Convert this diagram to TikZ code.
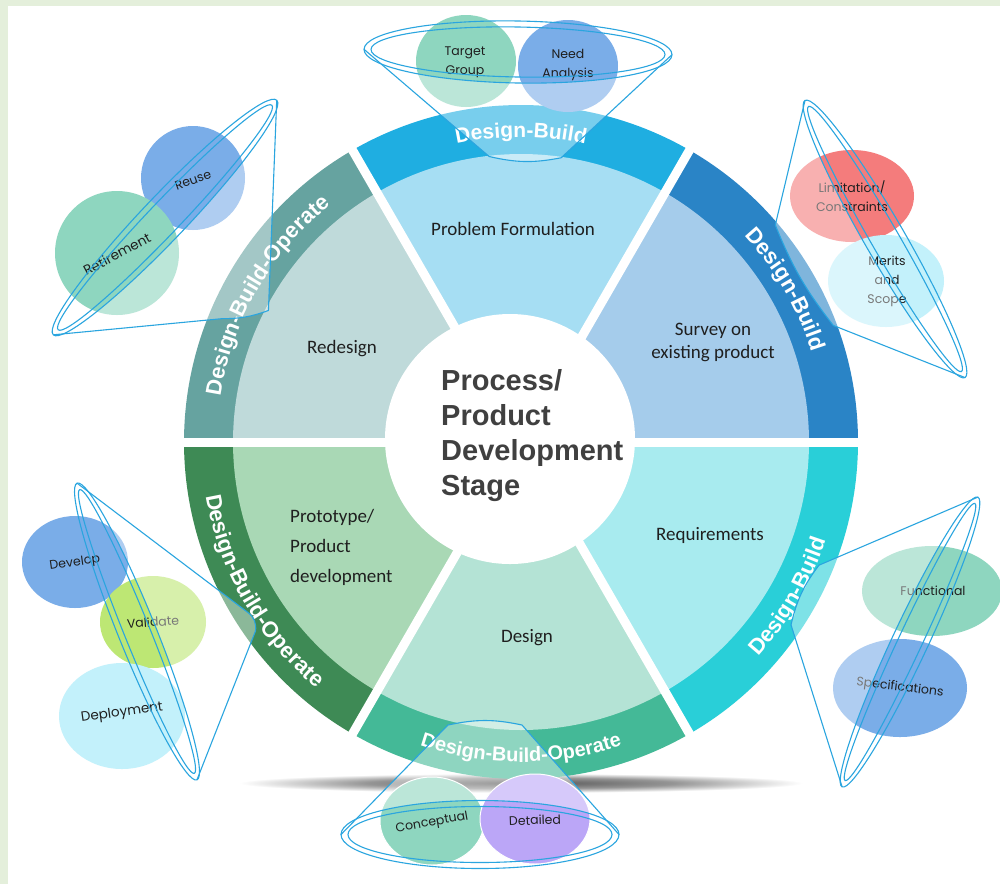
\documentclass[tikz,border=0pt]{standalone}
\usepackage{fontspec}
\setmainfont{Carlito}
\newfontfamily\arialf{Liberation Sans}
\newfontfamily\gothf{Poppins}
\usetikzlibrary{calc,decorations.text}
\definecolor{bgstrip}{HTML}{E4EFDB}
\definecolor{rTop}{HTML}{1FAEE1}\definecolor{iTop}{HTML}{A6DEF3}
\definecolor{rUR}{HTML}{2A84C6}\definecolor{iUR}{HTML}{A5CCEB}
\definecolor{rLR}{HTML}{29CFD8}\definecolor{iLR}{HTML}{A8EBEF}
\definecolor{rB}{HTML}{44B997}\definecolor{iB}{HTML}{B4E3D5}
\definecolor{rLL}{HTML}{3E8A55}\definecolor{iLL}{HTML}{A9D8B5}
\definecolor{rUL}{HTML}{66A3A0}\definecolor{iUL}{HTML}{BFDADA}
\definecolor{bGreen}{HTML}{8ED6BF}
\definecolor{bBlue}{HTML}{7AADE8}
\definecolor{bRed}{HTML}{F47C7C}
\definecolor{bCyan}{HTML}{C3F1FB}
\definecolor{bLime}{HTML}{BDE774}
\definecolor{bLav}{HTML}{BBA6F7}
\definecolor{fline}{HTML}{2AA5DF}
\definecolor{ctext}{HTML}{404040}
\definecolor{shA}{HTML}{555555}
\definecolor{shB}{HTML}{959595}
\pgfdeclareradialshading{shadowshade}{\pgfpoint{0bp}{0bp}}{color(0bp)=(shA); color(12bp)=(shB); color(22bp)=(white); color(50bp)=(white)}
\newcommand\ringTop{\arialf\bfseries\fontsize{21}{21}\selectfont}
\newcommand\ringSide{\arialf\bfseries\fontsize{22}{22}\selectfont}
\newcommand\ringBot{\arialf\bfseries\fontsize{20}{20}\selectfont}
\newcommand\wheelsector[4]{%
  \fill[#3] (C) -- ($(C)+(#1:337)$) arc[start angle=#1, end angle=#2, radius=337] -- cycle;
  \fill[#4] (C) -- ($(C)+(#1:288)$) arc[start angle=#1, end angle=#2, radius=288] -- cycle;}
\tikzset{
  conefill/.style={fill=white, fill opacity=0.4},
  rim/.style={draw=fline, line width=1.1pt},
  seclabel/.style={font=\fontsize{19}{23}\selectfont, text=black!88, align=center, inner sep=0pt},
  btext/.style={font=\gothf\fontsize{12.5}{19}\selectfont, text=black!88, align=center, inner sep=0pt},
  ringtext/.style={decorate, decoration={text along path, text align=center, text color=white, text={#1}}}
}
\begin{document}
\begin{tikzpicture}[x=1pt,y=1pt]
\fill[bgstrip] (0,0) rectangle (1000,-884);
\fill[white] (8,-6) rectangle (1000,-884);
\useasboundingbox (0,0) rectangle (1000,-884);
% shadow
\shade[shading=shadowshade] (521,-783) ellipse[x radius=320, y radius=11];
% wheel
\coordinate (C) at (521,-442);
\wheelsector{0}{60}{rUR}{iUR}
\wheelsector{60}{120}{rTop}{iTop}
\wheelsector{120}{180}{rUL}{iUL}
\wheelsector{180}{240}{rLL}{iLL}
\wheelsector{240}{300}{rB}{iB}
\wheelsector{300}{360}{rLR}{iLR}
\foreach \a in {0,60,...,300} \draw[white, line width=9] (C) -- ($(C)+(\a:345)$);
\fill[white] (510,-439) circle[radius=125];
% ring labels (curved along the ring)
\path[ringtext={|\ringTop|Design-Build}] ($(C)+(120:305)$) arc[start angle=120, end angle=60, radius=305];
\path[ringtext={|\ringSide|Design-Build}] ($(C)+(60:304)$) arc[start angle=60, end angle=0, radius=304];
\path[ringtext={|\ringSide|Design-Build-Operate}] ($(C)+(180:304)$) arc[start angle=180, end angle=120, radius=304];
\path[ringtext={|\ringSide|Design-Build}] ($(C)+(300:320)$) arc[start angle=300, end angle=360, radius=320];
\path[ringtext={|\ringBot|Design-Build-Operate}] ($(C)+(240:320)$) arc[start angle=240, end angle=300, radius=320];
\path[ringtext={|\ringSide|Design-Build-Operate}] ($(C)+(180:320)$) arc[start angle=180, end angle=240, radius=320];
% sector labels
\node[seclabel] (pf) at (513,-229) {Problem Formulation};
\node[seclabel] (sv) at (713,-342) {Survey on\\existing product};
\node[seclabel] (rq) at (710,-535) {Requirements};
\node[seclabel] (ds) at (527,-638) {Design};
\node[seclabel, align=left, anchor=west, font=\fontsize{19}{30}\selectfont] (pp) at (290,-547) {Prototype/\\Product\\development};
\node[seclabel] (rd) at (342,-349) {Redesign};
\node[anchor=west, align=left, font=\arialf\bfseries\fontsize{29}{35}\selectfont, text=ctext, inner sep=0pt] (ct) at (441,-436) {Process/\\Product\\Development\\Stage};
% ---------- top funnel
\fill[bGreen] (466,-61) ellipse[x radius=50, y radius=46];
\fill[bBlue] (568,-66) ellipse[x radius=50, y radius=46];
\node[btext] (tg) at (465,-62) {Target\\Group};
\node[btext] (na) at (568,-65) {Need\\Analysis};
\begin{scope}[shift={(518,-52)}, rotate=-1]
  \fill[conefill] (-154,0) -- (-27,-105) to[bend right=12] (45,-105) -- (154,0) arc[start angle=0, end angle=-180, x radius=154, y radius=31] -- cycle;
  \draw[rim] (0,0) ellipse[x radius=154, y radius=31];
  \draw[rim] (0,0) ellipse[x radius=147, y radius=25];
  \draw[rim] (-154,0) -- (-27,-105) to[bend right=12] (45,-105) -- (154,0);
\end{scope}
% ---------- upper-left funnel
\fill[bBlue] (193,-178) circle[radius=52];
\fill[bGreen] (117,-253) circle[radius=62];
\node[btext, rotate=20] (ru) at (193,-180) {Reuse};
\node[btext, rotate=28, font=\gothf\fontsize{13.5}{16}\selectfont] (rt) at (117,-254) {Retirement};
\begin{scope}[shift={(165,-217.5)}, rotate=46.4]
  \fill[conefill] (-162,0) -- (-34,-111) to[bend right=10] (4,-139) -- (162,0) arc[start angle=0, end angle=-180, x radius=162, y radius=22] -- cycle;
  \draw[rim] (0,0) ellipse[x radius=162, y radius=22];
  \draw[rim] (0,0) ellipse[x radius=155, y radius=16];
  \draw[rim] (-162,0) -- (-34,-111) to[bend right=10] (4,-139) -- (162,0);
\end{scope}
% ---------- upper-right funnel
\fill[bRed] (852,-196) ellipse[x radius=62, y radius=46];
\fill[bCyan] (886,-281) ellipse[x radius=58, y radius=46];
\node[btext] (lc) at (852,-196) {Limitation/\\Constraints};
\node[btext] (ms) at (887,-281) {Merits\\and\\Scope};
\begin{scope}[shift={(885,-239)}, rotate=-60]
  \fill[conefill] (-160,0) -- (-67,-88) to[bend right=8] (49,-88) -- (160,0) arc[start angle=0, end angle=-180, x radius=160, y radius=20] -- cycle;
  \draw[rim] (0,0) ellipse[x radius=160, y radius=20];
  \draw[rim] (0,0) ellipse[x radius=153, y radius=14];
  \draw[rim] (-160,0) -- (-67,-88) to[bend right=8] (49,-88) -- (160,0);
\end{scope}
% ---------- lower-left funnel
\fill[bBlue] (75,-562) ellipse[x radius=53, y radius=46];
\fill[bLime] (153,-622) ellipse[x radius=53, y radius=46];
\fill[bCyan] (122,-716) ellipse[x radius=63, y radius=53];
\node[btext, rotate=8] (dv) at (75,-563) {Develop};
\node[btext, rotate=4] (vl) at (153,-622) {Validate};
\node[btext, rotate=8, font=\gothf\fontsize{13.5}{16}\selectfont] (dp) at (122,-713) {Deployment};
\begin{scope}[shift={(137,-631.5)}, rotate=112]
  \fill[conefill] (-160,0) -- (-44,-110) to[bend right=30] (-24,-110) -- (160,0) arc[start angle=0, end angle=-180, x radius=160, y radius=19] -- cycle;
  \draw[rim] (0,0) ellipse[x radius=160, y radius=19];
  \draw[rim] (0,0) ellipse[x radius=153, y radius=13];
  \draw[rim] (-160,0) -- (-44,-110) to[bend right=30] (-24,-110) -- (160,0);
\end{scope}
% ---------- lower-right funnel
\fill[bGreen] (932,-591) ellipse[x radius=70, y radius=45];
\fill[bBlue] (900,-688) ellipse[x radius=67, y radius=49];
\node[btext] (fn) at (933,-591) {Functional};
\node[btext, rotate=-7] (sp) at (900,-688) {Specifications};
\begin{scope}[shift={(910,-642)}, rotate=244.9]
  \fill[conefill] (-160,0) -- (-31,-115) to[bend right=12] (35,-115) -- (160,0) arc[start angle=0, end angle=-180, x radius=160, y radius=18] -- cycle;
  \draw[rim] (0,0) ellipse[x radius=160, y radius=18];
  \draw[rim] (0,0) ellipse[x radius=153, y radius=12];
  \draw[rim] (-160,0) -- (-31,-115) to[bend right=12] (35,-115) -- (160,0);
\end{scope}
% ---------- bottom funnel
\filldraw[fill=bGreen, draw=white, line width=1pt] (432,-821) ellipse[x radius=52, y radius=44];
\filldraw[fill=bLav, draw=white, line width=1pt] (535,-819) ellipse[x radius=55, y radius=45];
\node[btext, rotate=10] (cc) at (432,-823) {Conceptual};
\node[btext, rotate=2] (dt) at (535,-820) {Detailed};
\begin{scope}[shift={(480,-834.5)}, rotate=180]
  \fill[conefill] (-139,0) -- (-42,-109.5) to[bend right=12] (32,-109.5) -- (139,0) arc[start angle=0, end angle=-180, x radius=139, y radius=34] -- cycle;
  \draw[rim] (0,0) ellipse[x radius=139, y radius=34];
  \draw[rim] (0,0) ellipse[x radius=132, y radius=28];
  \draw[rim] (-139,0) -- (-42,-109.5) to[bend right=12] (32,-109.5) -- (139,0);
\end{scope}
\end{tikzpicture}
\end{document}
